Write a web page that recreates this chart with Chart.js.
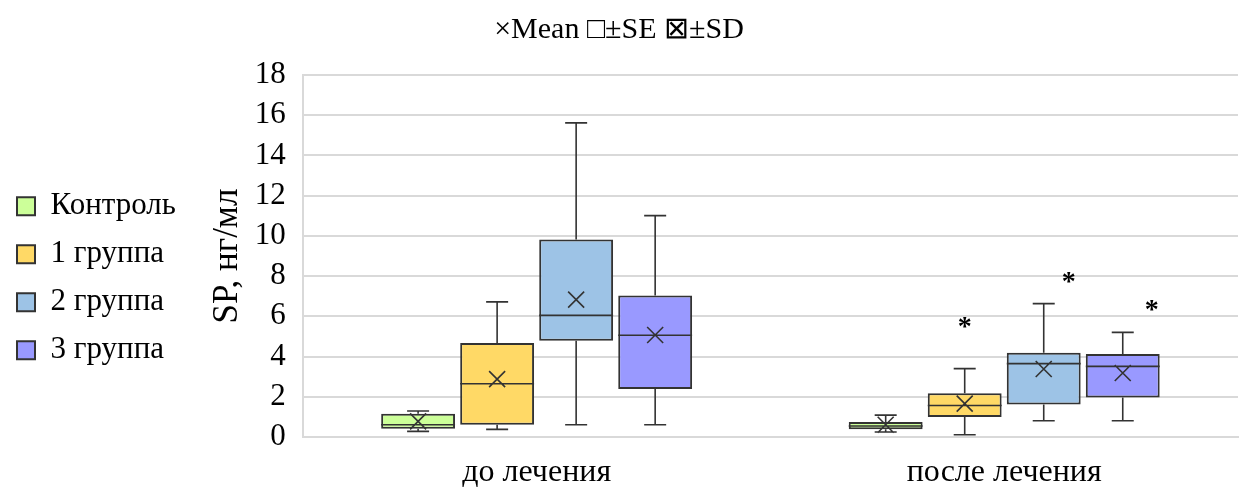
<!DOCTYPE html>
<html lang="ru">
<head>
  <meta charset="UTF-8" />
  <title>SP, нг/мл</title>
  <script src="https://cdn.jsdelivr.net/npm/chart.js"></script>
  <style>
    body { margin: 0; background: #fff; }
    #wrap { width: 1240px; height: 488px; }
  </style>
</head>
<body>
  <div id="wrap"><canvas id="myChart"></canvas></div>

<script>
  // categories and series
  const categories = ['до лечения', 'после лечения'];
  const seriesNames = ['Контроль', '1 группа', '2 группа', '3 группа'];
  const seriesColors = ['#ccff99', '#ffd966', '#9dc3e6', '#9999ff'];

  // box plot statistics, one row per series: [до лечения, после лечения]
  const whiskerLow  = [[0.28, 0.25], [0.38, 0.11], [0.61, 0.81], [0.61, 0.81]];
  const boxLow      = [[0.41, 0.38], [0.61, 0.99], [4.78, 1.62], [2.39, 1.97]];
  const medians     = [[0.61, 0.55], [2.65, 1.57], [6.05, 3.65], [5.06, 3.51]];
  const boxHigh     = [[1.16, 0.75], [4.68, 2.17], [9.82, 4.19], [7.03, 4.13]];
  const whiskerHigh = [[1.29, 1.09], [6.72, 3.40], [15.62, 6.63], [11.01, 5.20]];
  const means       = [[0.78, 0.61], [2.88, 1.66], [6.83, 3.38], [5.07, 3.18]];
  const stars       = [[null, null], [null, 5.6], [null, 7.8], [null, 6.45]];

  const serif = '"Liberation Serif", "Times New Roman", serif';

  // whiskers, medians, mean crosses and asterisks on top of the boxes
  const boxDetails = {
    id: 'boxDetails',
    afterDatasetsDraw(chart, args, opts) {
      const ctx = chart.ctx;
      const y = chart.scales.y;
      ctx.save();
      ctx.strokeStyle = '#333';
      ctx.lineWidth = 1.6;
      chart.data.datasets.forEach((ds, i) => {
        const meta = chart.getDatasetMeta(i);
        if (meta.hidden) return;
        meta.data.forEach((bar, j) => {
          const x = bar.x;
          const half = bar.width / 2;
          const cap = 11;
          const yWl = y.getPixelForValue(whiskerLow[i][j]);
          const yBl = y.getPixelForValue(boxLow[i][j]);
          const yBh = y.getPixelForValue(boxHigh[i][j]);
          const yWh = y.getPixelForValue(whiskerHigh[i][j]);
          const yMed = y.getPixelForValue(medians[i][j]);
          const yMean = y.getPixelForValue(means[i][j]);

          ctx.beginPath();
          // upper whisker
          ctx.moveTo(x, yBh); ctx.lineTo(x, yWh);
          ctx.moveTo(x - cap, yWh); ctx.lineTo(x + cap, yWh);
          // lower whisker
          ctx.moveTo(x, yBl); ctx.lineTo(x, yWl);
          ctx.moveTo(x - cap, yWl); ctx.lineTo(x + cap, yWl);
          // median
          ctx.moveTo(x - half, yMed); ctx.lineTo(x + half, yMed);
          // mean cross
          const m = 8;
          ctx.moveTo(x - m, yMean - m); ctx.lineTo(x + m, yMean + m);
          ctx.moveTo(x - m, yMean + m); ctx.lineTo(x + m, yMean - m);
          ctx.stroke();

          if (stars[i][j] != null) {
            ctx.fillStyle = '#000';
            ctx.font = 'bold 28px ' + serif;
            ctx.textAlign = 'center';
            ctx.textBaseline = 'middle';
            ctx.fillText('*', x + opts.starShift[i], y.getPixelForValue(stars[i][j]) + 3);
          }
        });
      });
      ctx.restore();
    }
  };

  const datasets = seriesNames.map((name, i) => ({
    label: name,
    data: categories.map((c, j) => [boxLow[i][j], boxHigh[i][j]]),
    backgroundColor: seriesColors[i],
    borderColor: '#333',
    borderWidth: 2,
    borderSkipped: false,
    categoryPercentage: 0.676,
    barPercentage: 0.935
  }));

  const ctx = document.getElementById('myChart').getContext('2d');
  new Chart(ctx, {
    type: 'bar',
    data: { labels: categories, datasets: datasets },
    plugins: [boxDetails],
    options: {
      responsive: true,
      maintainAspectRatio: false,
      animation: false,
      layout: { padding: { left: 0, right: 2, top: 0, bottom: 0 } },
      plugins: {
        tooltip: { enabled: false },
        boxDetails: { starShift: [0, 0, 25, 29] },
        title: {
          display: true,
          text: '×Mean □±SE ⊠±SD',
          color: '#000',
          font: { family: serif, size: 30, weight: 'normal', lineHeight: 1.2 },
          padding: { top: 12, bottom: 27 }
        },
        legend: {
          position: 'left',
          title: { display: true, text: ' ', padding: 27 },
          labels: {
            color: '#000',
            font: { family: serif, size: 31 },
            boxWidth: 18,
            boxHeight: 18,
            padding: 17
          }
        }
      },
      scales: {
        x: {
          grid: { display: false, drawTicks: false },
          border: { color: '#d9d9d9', width: 2 },
          afterFit(scale) { scale.height = 51; },
          ticks: {
            color: '#000',
            padding: 18,
            font: { family: serif, size: 32, lineHeight: 1.1 }
          }
        },
        y: {
          min: 0,
          max: 18,
          afterFit(scale) { scale.width = 117; },
          ticks: {
            stepSize: 2,
            autoSkip: false,
            color: '#000',
            padding: 17,
            font: { family: serif, size: 31 }
          },
          grid: { color: '#d9d9d9', lineWidth: 2, drawTicks: false },
          border: { color: '#d9d9d9', width: 2 },
          title: {
            display: true,
            text: 'SP, нг/мл',
            color: '#000',
            padding: { top: 21, bottom: 8 },
            font: { family: serif, size: 35 }
          }
        }
      }
    }
  });
</script>
</body>
</html>
